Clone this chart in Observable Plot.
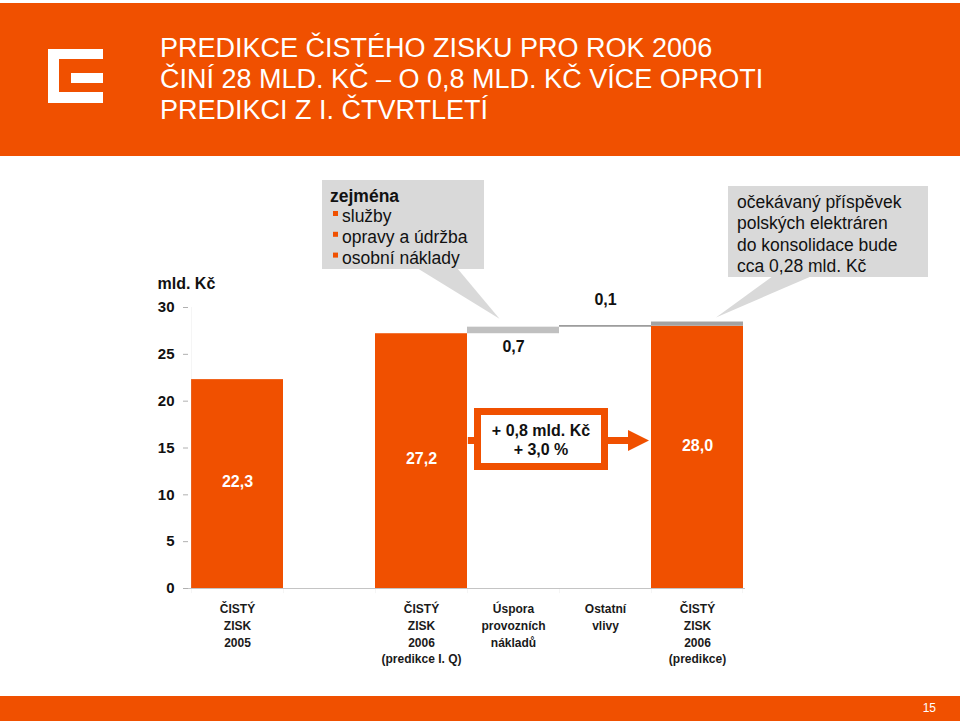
<!DOCTYPE html>
<html><head><meta charset="utf-8">
<script src="https://cdn.jsdelivr.net/npm/d3@7"></script>
<script src="https://cdn.jsdelivr.net/npm/@observablehq/plot@0.6"></script>
<style>
body{margin:0;background:#fff;font-family:"Liberation Sans",Arial,sans-serif;}
#page{position:relative;width:960px;height:725px;overflow:hidden;}
#header{position:absolute;left:0;top:3px;width:960px;height:153px;background:#f05000;}
#title{position:absolute;left:160px;top:33px;color:#fff;font-size:27px;line-height:31px;white-space:nowrap;}
.lg{position:absolute;background:#fff;}
#footer{position:absolute;left:0;top:696px;width:960px;height:25px;background:#f05000;}
#pnum{position:absolute;right:24px;top:701px;color:#fff;font-size:12px;}
#chart{position:absolute;left:0;top:0;}
</style></head>
<body>
<div id="page">
  <div id="header"></div>
  <div class="lg" style="left:48px;top:49px;width:11px;height:54px"></div>
  <div class="lg" style="left:48px;top:49px;width:55px;height:10px"></div>
  <div class="lg" style="left:48px;top:92px;width:55px;height:11px"></div>
  <div class="lg" style="left:71px;top:73px;width:32px;height:10px"></div>
  <div id="title">PREDIKCE ČISTÉHO ZISKU PRO ROK 2006<br>ČINÍ 28 MLD. KČ – O 0,8 MLD. KČ VÍCE OPROTI<br>PREDIKCI Z I. ČTVRTLETÍ</div>
  <div id="footer"></div>
  <div id="pnum">15</div>
  <div id="chart"></div>
</div>
<script>
// ---- data ----
const categoryIds = ["z2005", "mezera", "z2006q", "uspora", "ostatni", "z2006"];
const categoryLabels = ["ČISTÝ\nZISK\n2005", "", "ČISTÝ\nZISK\n2006\n(predikce I. Q)", "Úspora\nprovozních\nnákladů", "Ostatní\nvlivy", "ČISTÝ\nZISK\n2006\n(predikce)"];
const totalCats = ["z2005", "z2006q", "z2006"];
const totalValues = [22.3, 27.2, 28.0];
const totalLabels = ["22,3", "27,2", "28,0"];
const stepCats = ["uspora", "ostatni"];
const stepValues = [0.7, 0.1];
const stepLabels = ["0,7", "0,1"];
const capValue = 0.45; // grey cap on 2006 prediction (Polish plants)
const yTicks = [0, 5, 10, 15, 20, 25, 30];

const ORANGE = "#f05000";
const FONT = "Liberation Sans, Arial, sans-serif";

const totals = totalCats.map((c, i) => ({cat: c, v: totalValues[i], label: totalLabels[i]}));
let run = totalValues[1];
const steps = stepCats.map((c, i) => { const from = run; run += stepValues[i]; return {cat: c, from, to: run, label: stepLabels[i]}; });
const labelsData = categoryIds.map((id, i) => ({id, label: categoryLabels[i]}));

const W = 960, H = 725, mL = 188, mR = 215, mT = 307, mB = 137;
const bw = (W - mL - mR) / categoryIds.length;

const chart = Plot.plot({
  width: W, height: H,
  marginLeft: mL, marginRight: mR, marginTop: mT, marginBottom: mB,
  style: {fontFamily: FONT, background: "transparent", overflow: "visible"},
  x: {domain: categoryIds, padding: 0, axis: null},
  y: {domain: [0, 30]},
  marks: [
    Plot.barY(totals, {x: "cat", y1: 0, y2: "v", fill: ORANGE}),
    Plot.barY(steps.slice(0, 1), {x: "cat", y1: "from", y2: "to", fill: "#c0c0c0"}),
    Plot.barY(steps.slice(1), {x: "cat", y1: "from", y2: "to", fill: "#8f8f8f", insetTop: -0.6}),
    Plot.barY(totals.slice(2), {x: "cat", y1: "v", y2: d => d.v + capValue, fill: "#a3a3a3"}),
    // axis lines and x ticks at band edges
    Plot.barY(["z2005"], {x: d => d, y1: 0, y2: 30, insetRight: bw - 1, fill: "#c4c4c4"}),
    Plot.ruleY([0], {stroke: "#c4c4c4"}),
    Plot.barY(categoryIds, {x: d => d, y1: 0, y2: -0.55, insetRight: bw - 1, fill: "#c4c4c4"}),
    Plot.barY(["z2006"], {x: d => d, y1: 0, y2: -0.55, insetLeft: bw - 1, fill: "#c4c4c4"}),
    Plot.axisY({ticks: yTicks, tickSize: 5, tickPadding: 9, stroke: "#b0b0b0", fill: "#111", fontSize: 15, fontWeight: "bold", label: null}),
    Plot.text(["mld. Kč"], {frameAnchor: "top-left", textAnchor: "start", dx: -31, dy: -30, fontSize: 16, fontWeight: "bold", fill: "#111"}),
    Plot.text(labelsData, {x: "id", y: 0, text: "label", dy: 13, lineAnchor: "top", lineHeight: 1.39, fontSize: 12, fontWeight: "bold", fill: "#1a1a1a"}),
    Plot.text(totals.slice(0, 2), {x: "cat", y: d => d.v / 2, text: "label", dy: -2, fill: "white", fontSize: 16, fontWeight: "bold"}),
    Plot.text(totals.slice(2), {x: "cat", y: d => d.v / 2, text: "label", dy: -11, fill: "white", fontSize: 16, fontWeight: "bold"}),
    Plot.text(steps.slice(0, 1), {x: "cat", y: "from", text: "label", dy: 13, fill: "#111", fontSize: 16, fontWeight: "bold"}),
    Plot.text(steps.slice(1), {x: "cat", y: "to", text: "label", dy: -26, fill: "#111", fontSize: 16, fontWeight: "bold"})
  ]
});
document.getElementById("chart").appendChild(chart);

// ---- annotations ----
const sx = chart.scale("x"), sy = chart.scale("y");
const svg = d3.select(chart);
const g = svg.append("g").attr("font-family", FONT).attr("text-anchor", "start");
const GREY = "#d9d9d9";

// callout 1
const tip1 = [sx.apply("uspora") + bw * 0.35, sy.apply(totalValues[1] + stepValues[0]) - 8];
g.append("polygon").attr("points", `417,268 457,268 ${tip1[0]},${tip1[1]}`).attr("fill", GREY);
g.append("rect").attr("x", 322).attr("y", 180).attr("width", 162).attr("height", 89).attr("fill", GREY);
g.append("text").attr("x", 330).attr("y", 202).attr("font-size", 17.5).attr("font-weight", "bold").attr("fill", "#111").text("zejména");
["služby", "opravy a údržba", "osobní náklady"].forEach((t, i) => {
  const by = 222 + i * 20.8;
  g.append("rect").attr("x", 333).attr("y", by - 11).attr("width", 5).attr("height", 5).attr("fill", ORANGE);
  g.append("text").attr("x", 342).attr("y", by).attr("font-size", 17.5).attr("fill", "#111").text(t);
});

// callout 2
const tip2 = [sx.apply("z2006") + bw * 0.7, sy.apply(totalValues[2] + capValue) - 4];
g.append("polygon").attr("points", `773,276 812,276 ${tip2[0]},${tip2[1]}`).attr("fill", GREY);
g.append("rect").attr("x", 728).attr("y", 186).attr("width", 200).attr("height", 91).attr("fill", GREY);
["očekávaný příspěvek", "polských elektráren", "do konsolidace bude", "cca 0,28 mld. Kč"].forEach((t, i) => {
  g.append("text").attr("x", 737).attr("y", 208 + i * 21.3).attr("font-size", 17.5).attr("fill", "#111").text(t);
});

// increment box with arrow
const x0 = sx.apply("z2006q") + bw;
g.append("rect").attr("x", x0).attr("y", 437).attr("width", 474 - x0).attr("height", 7).attr("fill", ORANGE);
g.append("rect").attr("x", 606).attr("y", 437).attr("width", 24).attr("height", 7).attr("fill", ORANGE);
g.append("polygon").attr("points", "628,430 649,440.5 628,451").attr("fill", ORANGE);
g.append("rect").attr("x", 477.5).attr("y", 411.5).attr("width", 127).attr("height", 55).attr("fill", "#fff").attr("stroke", ORANGE).attr("stroke-width", 7);
g.append("text").attr("x", 541).attr("y", 436).attr("text-anchor", "middle").attr("font-size", 16).attr("font-weight", "bold").attr("fill", "#111").text("+ 0,8 mld. Kč");
g.append("text").attr("x", 541).attr("y", 455).attr("text-anchor", "middle").attr("font-size", 16).attr("font-weight", "bold").attr("fill", "#111").text("+ 3,0 %");
</script>
</body></html>
